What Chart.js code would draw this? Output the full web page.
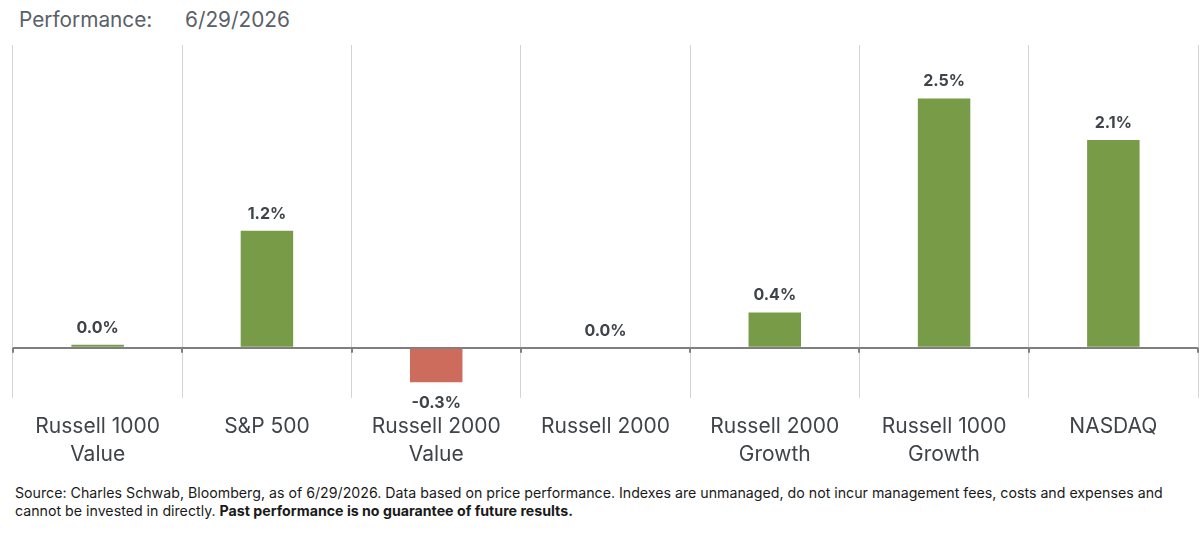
<!DOCTYPE html>
<html>
<head>
<meta charset="utf-8">
<script src="https://cdn.jsdelivr.net/npm/chart.js@4"></script>
<style>
    body { margin: 0; background: #fff; font-family: Inter, "Noto Sans", sans-serif; }
    #wrap { position: relative; width: 1200px; height: 537px; overflow: hidden; }
    #title { position: absolute; left: 19px; top: 7px; font-size: 20.8px; color: #5a6068; }
    #title span { position: absolute; left: 166px; white-space: nowrap; }
    #chartBox { position: absolute; left: 0; top: 0; width: 1200px; height: 483px; }
    #note { position: absolute; left: 15px; top: 484px; font-size: 14.2px; line-height: 18px; color: #1a1a1a; width: 1185px; }
</style>
</head>
<body>
<div id="wrap">
    <div id="title">Performance:<span>6/29/2026</span></div>
    <div id="chartBox"><canvas id="perfChart"></canvas></div>
    <div id="note">Source: Charles Schwab, Bloomberg, as of 6/29/2026. Data based on price performance. Indexes are unmanaged, do not incur management fees, costs and expenses and cannot be invested in directly. <b>Past performance is no guarantee of future results.</b></div>
</div>
<script>
const categories = [
    ['Russell 1000', 'Value'],
    'S&P 500',
    ['Russell 2000', 'Value'],
    'Russell 2000',
    ['Russell 2000', 'Growth'],
    ['Russell 1000', 'Growth'],
    'NASDAQ'
];
const performance = [0.03, 1.16, -0.34, 0.0, 0.35, 2.47, 2.06];
const labelText = ['0.0%', '1.2%', '-0.3%', '0.0%', '0.4%', '2.5%', '2.1%'];

const GREEN = '#789b48';
const RED = '#cd6b5d';

// value labels above / below each bar, plus the little ticks on the zero line
const barLabels = {
    id: 'barLabels',
    afterDatasetsDraw(chart) {
        const ctx = chart.ctx;
        const meta = chart.getDatasetMeta(0);
        const y = chart.scales.y;
        const x = chart.scales.x;
        const zero = y.getPixelForValue(0);
        ctx.save();
        // tick marks at category boundaries
        ctx.strokeStyle = '#7f7f7f';
        ctx.lineWidth = 2;
        for (let i = 0; i <= categories.length; i++) {
            const px = Math.round(x.left + i * (x.right - x.left) / categories.length);
            ctx.beginPath();
            ctx.moveTo(px, zero);
            ctx.lineTo(px, zero + 5);
            ctx.stroke();
        }
        ctx.font = 'bold 16px Inter, "Noto Sans", sans-serif';
        ctx.fillStyle = '#3f444b';
        ctx.textAlign = 'center';
        meta.data.forEach((bar, i) => {
            const v = performance[i];
            if (v < 0) {
                ctx.textBaseline = 'top';
                ctx.fillText(labelText[i], bar.x, bar.y + 13);
            } else {
                ctx.textBaseline = 'bottom';
                ctx.fillText(labelText[i], bar.x, bar.y - 9);
            }
        });
        ctx.restore();
    }
};

new Chart(document.getElementById('perfChart'), {
    type: 'bar',
    data: {
        labels: categories,
        datasets: [{
            data: performance,
            backgroundColor: performance.map(v => v < 0 ? RED : GREEN),
            barPercentage: 0.62,
            categoryPercentage: 0.5
        }]
    },
    options: {
        responsive: true,
        maintainAspectRatio: false,
        animation: false,
        layout: { padding: { top: 45, left: 13, right: 2, bottom: 0 } },
        plugins: { legend: { display: false }, tooltip: { enabled: false } },
        scales: {
            x: {
                offset: true,
                grid: { offset: true, color: '#d4d4d4', lineWidth: 1, drawTicks: false },
                border: { display: false },
                ticks: {
                    color: '#3f444b',
                    padding: 14,
                    maxRotation: 0,
                    autoSkip: false,
                    font: { size: 21, family: 'Inter, "Noto Sans", sans-serif', lineHeight: 1.35 }
                }
            },
            y: {
                min: -0.5,
                max: 3.0,
                ticks: { display: false, stepSize: 0.5 },
                border: { display: false },
                grid: {
                    drawTicks: false,
                    color: c => c.tick.value === 0 ? '#7f7f7f' : 'rgba(0,0,0,0)',
                    lineWidth: c => c.tick.value === 0 ? 2 : 0
                },
                afterFit(scale) { scale.width = 0; }
            }
        }
    },
    plugins: [barLabels]
});
</script>
</body>
</html>
